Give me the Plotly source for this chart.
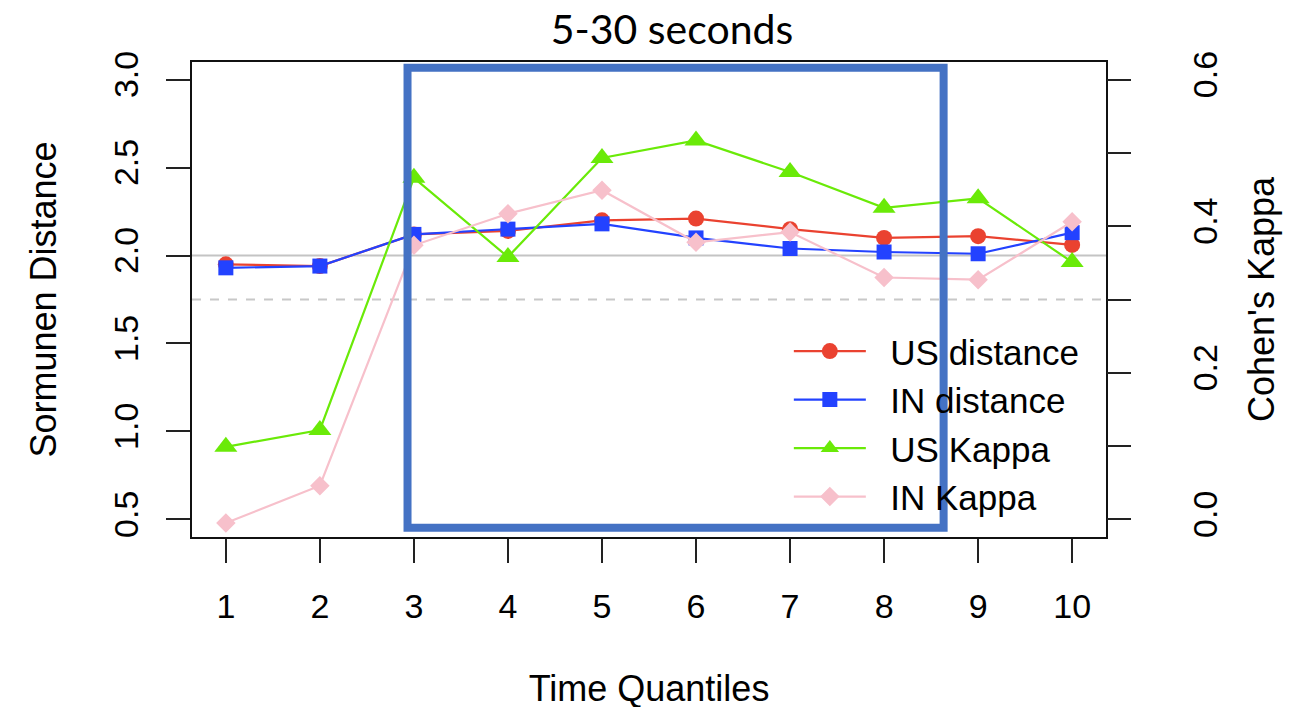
import plotly.graph_objects as go

# ---- data ----
quantiles = [1, 2, 3, 4, 5, 6, 7, 8, 9, 10]
us_distance = [1.95, 1.94, 2.12, 2.14, 2.20, 2.21, 2.15, 2.10, 2.11, 2.06]
in_distance = [1.93, 1.94, 2.12, 2.15, 2.18, 2.10, 2.04, 2.02, 2.01, 2.13]
us_kappa = [0.099, 0.122, 0.466, 0.358, 0.493, 0.517, 0.474, 0.425, 0.438, 0.351]
in_kappa = [-0.005, 0.046, 0.374, 0.417, 0.449, 0.378, 0.392, 0.330, 0.327, 0.406]

left_ticks = [0.5, 1.0, 1.5, 2.0, 2.5, 3.0]
left_ticklabels = ["0.5", "1.0", "1.5", "2.0", "2.5", "3.0"]
right_ticks = [0.0, 0.1, 0.2, 0.3, 0.4, 0.5, 0.6]
right_ticklabels = ["0.0", "", "0.2", "", "0.4", "", "0.6"]

ref_distance = 2.0
ref_distance_dashed = 1.75

FONT = "Liberation Sans, Arial, Helvetica, sans-serif"
FS = 34
NB = "\u00a0\u00a0"

fig = go.Figure()

fig.add_trace(go.Scatter(x=quantiles, y=us_distance, name=NB + "US distance", mode="lines+markers",
                         line=dict(color="#EA4230", width=2.2),
                         marker=dict(symbol="circle", size=16, color="#EA4230"), yaxis="y"))
fig.add_trace(go.Scatter(x=quantiles, y=in_distance, name=NB + "IN distance", mode="lines+markers",
                         line=dict(color="#2342FF", width=2.2),
                         marker=dict(symbol="square", size=15, color="#2342FF"), yaxis="y"))
fig.add_trace(go.Scatter(x=quantiles, y=us_kappa, name=NB + "US Kappa", mode="lines+markers",
                         line=dict(color="#6AEA08", width=2.2),
                         marker=dict(symbol="triangle-up", size=20, color="#6AEA08"), yaxis="y2"))
fig.add_trace(go.Scatter(x=quantiles, y=in_kappa, name=NB + "IN Kappa", mode="lines+markers",
                         line=dict(color="#F7C0CB", width=2.2),
                         marker=dict(symbol="diamond", size=15, color="#F7C0CB"), yaxis="y2"))

# reference lines
fig.add_shape(type="line", xref="paper", x0=0, x1=1, yref="y", y0=ref_distance, y1=ref_distance,
              line=dict(color="#C4C4C4", width=2), layer="below")
fig.add_shape(type="line", xref="paper", x0=0, x1=1, yref="y", y0=ref_distance_dashed, y1=ref_distance_dashed,
              line=dict(color="#C8C8C8", width=2, dash="dash"), layer="below")

# highlight rectangle
fig.add_shape(type="rect", xref="x", yref="y", x0=2.932, x1=8.633, y0=0.452, y1=3.068,
              line=dict(color="#4472C4", width=8), fillcolor="rgba(0,0,0,0)", layer="above")

fig.update_layout(
    width=1301, height=707,
    margin=dict(l=184, r=203, t=54, b=178),
    paper_bgcolor="white", plot_bgcolor="white",
    font=dict(family=FONT, size=FS, color="black"),
    title=dict(text="5-30 seconds", xref="container", yref="container",
               x=(672 - 8) / 1301, y=1 - (30 - 8) / 707, xanchor="center", yanchor="middle",
               font=dict(family="Lato, Open Sans, sans-serif", size=41, color="black")),
    showlegend=True,
    legend=dict(x=0.653, y=0.453, xanchor="left", yanchor="top", bgcolor="rgba(0,0,0,0)",
                font=dict(family=FONT, size=35), tracegroupgap=0, itemwidth=72),
    xaxis=dict(range=[0.64, 10.36], tickvals=quantiles, ticktext=[str(q) for q in quantiles],
               ticks="outside", ticklen=24, tickwidth=2, tickcolor="#222",
               showline=True, linecolor="#111", linewidth=2, mirror=True,
               showgrid=False, zeroline=False, ticklabelstandoff=14,
               title=dict(text="Time Quantiles", standoff=52, font=dict(size=36))),
    yaxis=dict(range=[0.4, 3.1], tickvals=left_ticks, ticktext=left_ticklabels, tickangle=-90,
               ticks="outside", ticklen=24, tickwidth=2, tickcolor="#222",
               showline=True, linecolor="#111", linewidth=2, mirror=True,
               showgrid=False, zeroline=False, ticklabelstandoff=14,
               title=dict(text="Sormunen Distance", standoff=40, font=dict(size=36))),
    yaxis2=dict(range=[-0.024, 0.624], overlaying="y", side="right", tickvals=right_ticks,
                ticktext=right_ticklabels, tickangle=-90,
                ticks="outside", ticklen=24, tickwidth=2, tickcolor="#222",
                showline=False, showgrid=False, zeroline=False, ticklabelstandoff=45,
                title=dict(text="Cohen's Kappa", standoff=26, font=dict(size=36))),
)

fig.write_html("out.html")
